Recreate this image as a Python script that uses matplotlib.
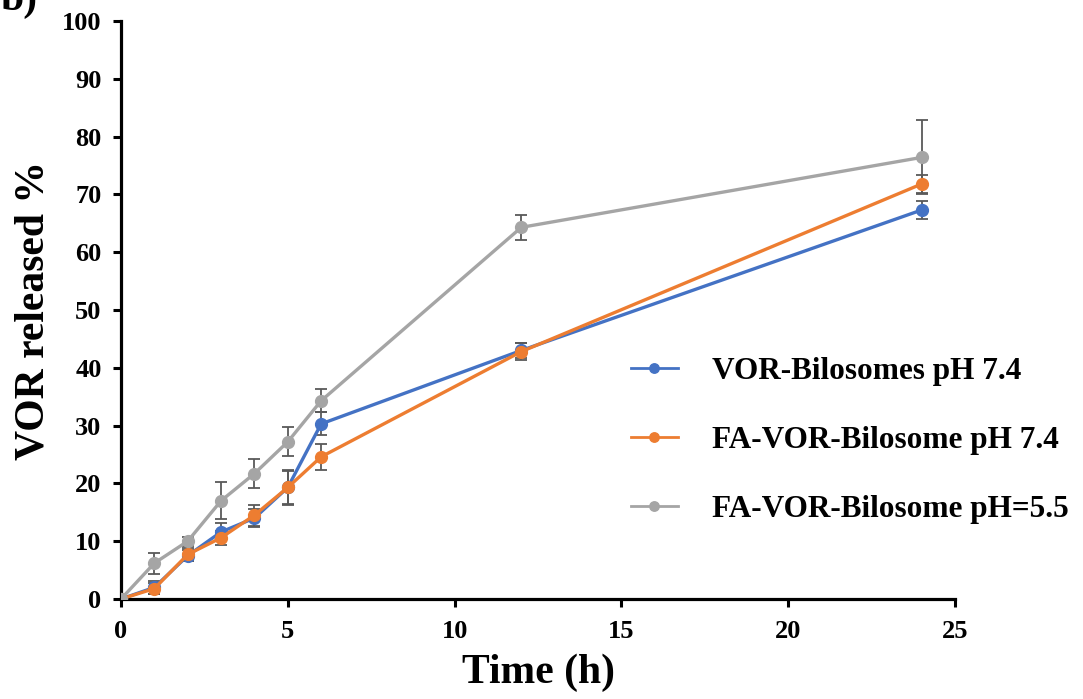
import numpy as np
import matplotlib
matplotlib.use('Agg')
import matplotlib.pyplot as plt

# 数据
time_h = [0, 1, 2, 3, 4, 5, 6, 12, 24]

vor_74 = [0, 2.0, 7.5, 11.6, 14.0, 19.3, 30.3, 43.0, 67.3]
vor_74_err = [0, 1.2, 1.0, 1.5, 1.5, 2.8, 2.0, 1.3, 1.5]

fa_74 = [0, 1.8, 7.7, 10.6, 14.5, 19.3, 24.6, 42.8, 71.8]
fa_74_err = [0, 1.0, 1.2, 1.2, 1.8, 3.0, 2.2, 1.5, 1.5]

fa_55 = [0, 6.2, 10.0, 17.0, 21.7, 27.2, 34.3, 64.3, 76.4]
fa_55_err = [0, 1.8, 0.8, 3.2, 2.5, 2.5, 2.0, 2.2, 6.4]

labels = ['VOR-Bilosomes pH 7.4', 'FA-VOR-Bilosome pH 7.4', 'FA-VOR-Bilosome pH=5.5']
colors = ['#4472C4', '#ED7D31', '#A5A5A5']

plt.rcParams['font.family'] = ['Liberation Serif', 'DejaVu Serif']
plt.rcParams['font.weight'] = 'bold'

fig = plt.figure(figsize=(10.83, 6.99), dpi=100)
ax = fig.add_axes([121/1083, 1-599/699, (955-121)/1083, (599-21)/699])

series = [(vor_74, vor_74_err), (fa_74, fa_74_err), (fa_55, fa_55_err)]
handles = []
for (y, e), c, lab in zip(series, colors, labels):
    # 误差线
    ax.errorbar(time_h, y, yerr=e, fmt='none', ecolor='#595959',
                elinewidth=1.3, capsize=4, capthick=1.3, zorder=2)
    h, = ax.plot(time_h, y, '-o', color=c, lw=2.4, ms=8.5, label=lab, zorder=3)
    handles.append(h)

ax.set_xlim(0, 25)
ax.set_ylim(0, 100)
ax.set_xticks(np.arange(0, 26, 5))
ax.set_yticks(np.arange(0, 101, 10))
ax.spines['top'].set_visible(False)
ax.spines['right'].set_visible(False)
ax.spines['left'].set_linewidth(2.3)
ax.spines['bottom'].set_linewidth(2.3)
ax.tick_params(direction='out', length=6, width=2.2, labelsize=19)
ax.tick_params(axis='y', pad=8)
ax.tick_params(axis='x', pad=9)
for t in ax.get_xticklabels() + ax.get_yticklabels():
    t.set_fontweight('bold')

ax.set_xlabel('Time (h)', fontsize=30, fontweight='bold', labelpad=8)
ax.set_ylabel('VOR released %', fontsize=30, fontweight='bold', labelpad=7)

leg = fig.legend(handles=handles, labels=labels, loc='upper left',
                 bbox_to_anchor=(631/1083, 1-357/699), frameon=False,
                 prop={'family': 'Liberation Serif', 'weight': 'bold', 'size': 22.5},
                 handlelength=1.5, handletextpad=1.1, labelspacing=1.28,
                 borderpad=0, borderaxespad=0, markerscale=0.8)
for l in leg.get_lines():
    l.set_linewidth(2)

fig.text(0.0, 1-10/699, 'b)', fontsize=30, fontweight='bold', ha='left', va='baseline')

fig.savefig('out.png', dpi=100)
